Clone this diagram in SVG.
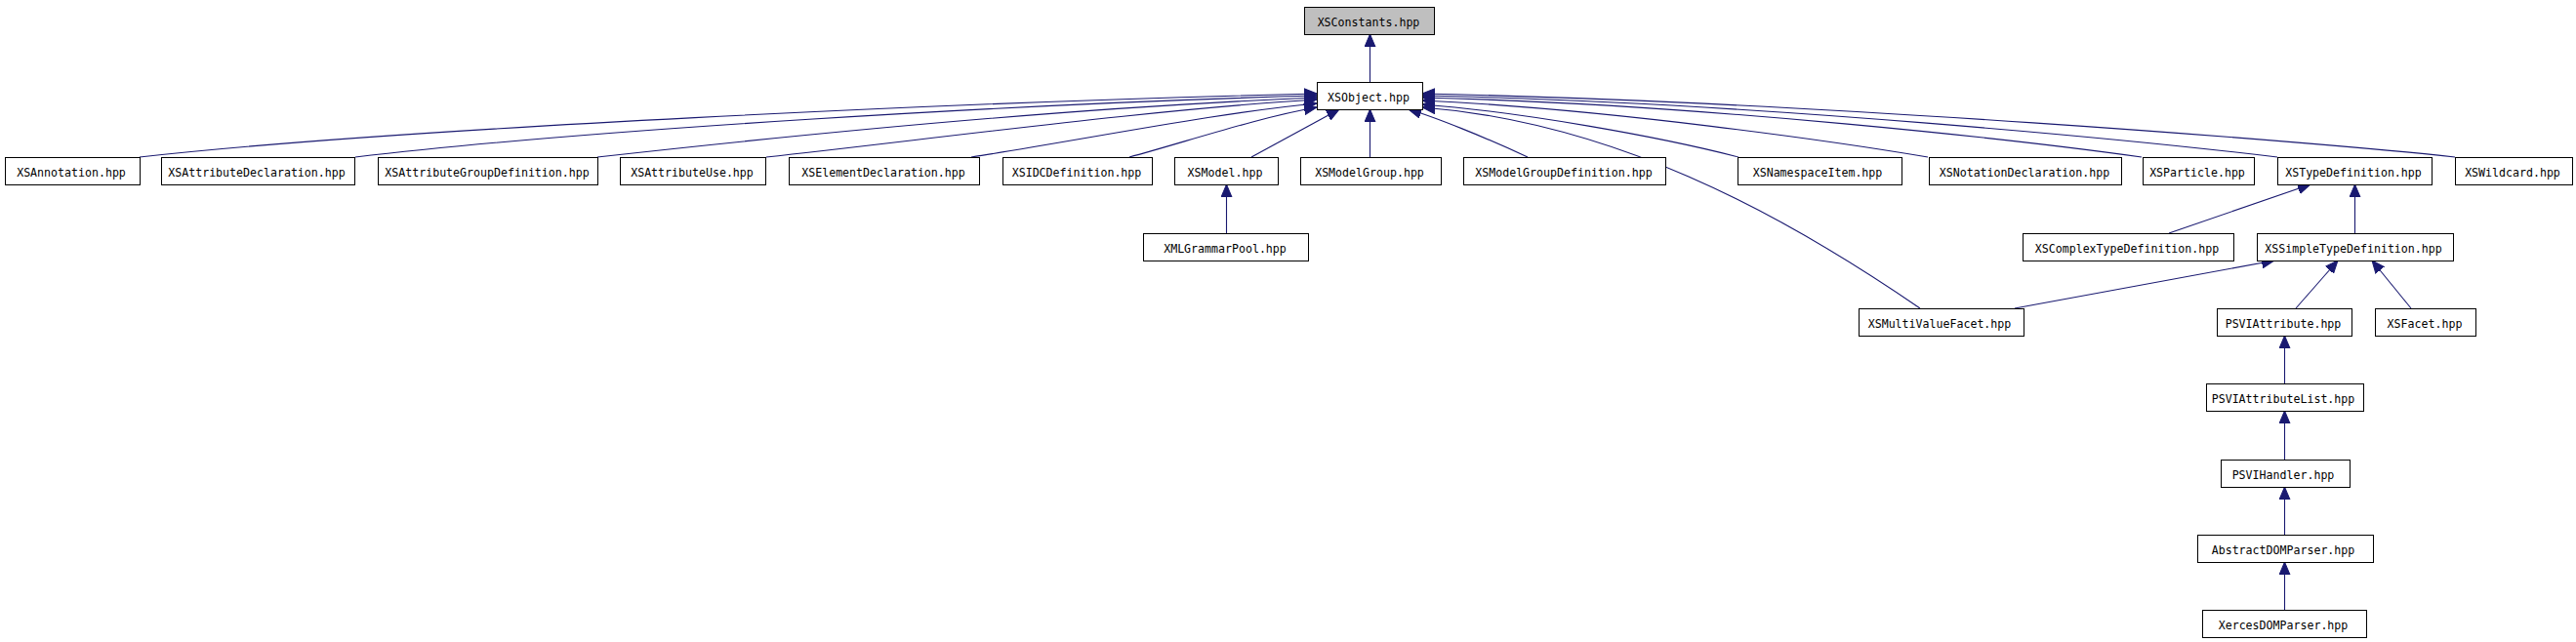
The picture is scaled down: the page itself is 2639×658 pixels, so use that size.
<svg xmlns="http://www.w3.org/2000/svg" width="2639" height="658" viewBox="0 0 2639 658">
<style>
.n rect{fill:#fff;stroke:#000;stroke-width:1}
.n.g rect{fill:#bfbfbf}
.n text{font-family:"DejaVu Sans Mono","Liberation Mono",monospace;font-size:11.6px;font-weight:normal;text-anchor:middle;fill:#000}
#edges path{fill:none;stroke:#191970;stroke-width:1.1;marker-end:url(#arr)}
</style>
<defs>
<marker id="arr" markerUnits="userSpaceOnUse" markerWidth="14" markerHeight="12" refX="13" refY="6" orient="auto">
<path d="M0,0.5 L13,6 L0,11.5 z" fill="#191970" stroke="#191970" stroke-width="1"/>
</marker>
</defs>
<rect width="2639" height="658" fill="#fff"/>
<g id="edges">
<path d="M1403.5,84 L1403.5,35"/>
<path d="M143,161 C400,132 1000,104 1349,96"/>
<path d="M364,161 C600,133 1050,106 1349,98"/>
<path d="M612,161 C800,140 1100,110 1349,100"/>
<path d="M785,161 C950,143 1180,112 1349,102"/>
<path d="M995,161 C1100,145 1250,115 1349,106"/>
<path d="M1157,161 C1210,147 1290,120 1349,110"/>
<path d="M1282,161 L1372,112"/>
<path d="M1403.5,161 L1403.5,112"/>
<path d="M1565,161 C1520,140 1470,120 1443,112"/>
<path d="M1781,161 C1700,140 1560,115 1457,107"/>
<path d="M1975,161 C1880,145 1650,112 1457,103"/>
<path d="M2194,161 C2080,145 1750,107 1457,100"/>
<path d="M2333,161 C2200,145 1800,105 1457,98"/>
<path d="M2515,161 C2380,146 1850,104 1457,96"/>
<path d="M1967,316 C1820,215 1650,125 1457,110"/>
<path d="M1256.5,239 L1256.5,189"/>
<path d="M2222,239 L2367,189"/>
<path d="M2412.5,239 L2412.5,189"/>
<path d="M2064,316 L2330,267"/>
<path d="M2352,316 L2395,267"/>
<path d="M2470,316 L2430,267"/>
<path d="M2340.5,393 L2340.5,344"/>
<path d="M2340.5,471 L2340.5,421"/>
<path d="M2340.5,548 L2340.5,499"/>
<path d="M2340.5,625 L2340.5,576"/>
</g>
<g id="XSConstants" class="n g"><rect x="1336.5" y="7.5" width="133" height="28"/><text x="1402" y="26.5">XSConstants.hpp</text></g>
<g id="XSObject" class="n"><rect x="1349.5" y="84.5" width="108" height="28"/><text x="1402" y="103.5">XSObject.hpp</text></g>
<g id="XSAnnotation" class="n"><rect x="5.5" y="161.5" width="138" height="28"/><text x="73" y="180.5">XSAnnotation.hpp</text></g>
<g id="XSAttributeDeclaration" class="n"><rect x="165.5" y="161.5" width="198" height="28"/><text x="263" y="180.5">XSAttributeDeclaration.hpp</text></g>
<g id="XSAttributeGroupDefinition" class="n"><rect x="387.5" y="161.5" width="225" height="28"/><text x="499" y="180.5">XSAttributeGroupDefinition.hpp</text></g>
<g id="XSAttributeUse" class="n"><rect x="635.5" y="161.5" width="149" height="28"/><text x="709" y="180.5">XSAttributeUse.hpp</text></g>
<g id="XSElementDeclaration" class="n"><rect x="808.5" y="161.5" width="195" height="28"/><text x="905" y="180.5">XSElementDeclaration.hpp</text></g>
<g id="XSIDCDefinition" class="n"><rect x="1027.5" y="161.5" width="153" height="28"/><text x="1103" y="180.5">XSIDCDefinition.hpp</text></g>
<g id="XSModel" class="n"><rect x="1203.5" y="161.5" width="106" height="28"/><text x="1255" y="180.5">XSModel.hpp</text></g>
<g id="XSModelGroup" class="n"><rect x="1332.5" y="161.5" width="144" height="28"/><text x="1403" y="180.5">XSModelGroup.hpp</text></g>
<g id="XSModelGroupDefinition" class="n"><rect x="1499.5" y="161.5" width="207" height="28"/><text x="1602" y="180.5">XSModelGroupDefinition.hpp</text></g>
<g id="XSNamespaceItem" class="n"><rect x="1780.5" y="161.5" width="168" height="28"/><text x="1862" y="180.5">XSNamespaceItem.hpp</text></g>
<g id="XSNotationDeclaration" class="n"><rect x="1976.5" y="161.5" width="197" height="28"/><text x="2074" y="180.5">XSNotationDeclaration.hpp</text></g>
<g id="XSParticle" class="n"><rect x="2195.5" y="161.5" width="114" height="28"/><text x="2251" y="180.5">XSParticle.hpp</text></g>
<g id="XSTypeDefinition" class="n"><rect x="2333.5" y="161.5" width="158" height="28"/><text x="2411" y="180.5">XSTypeDefinition.hpp</text></g>
<g id="XSWildcard" class="n"><rect x="2515.5" y="161.5" width="120" height="28"/><text x="2574" y="180.5">XSWildcard.hpp</text></g>
<g id="XMLGrammarPool" class="n"><rect x="1171.5" y="239.5" width="169" height="28"/><text x="1255" y="258.5">XMLGrammarPool.hpp</text></g>
<g id="XSComplexTypeDefinition" class="n"><rect x="2072.5" y="239.5" width="216" height="28"/><text x="2179" y="258.5">XSComplexTypeDefinition.hpp</text></g>
<g id="XSSimpleTypeDefinition" class="n"><rect x="2312.5" y="239.5" width="201" height="28"/><text x="2411" y="258.5">XSSimpleTypeDefinition.hpp</text></g>
<g id="XSMultiValueFacet" class="n"><rect x="1904.5" y="316.5" width="169" height="28"/><text x="1987" y="335.5">XSMultiValueFacet.hpp</text></g>
<g id="PSVIAttribute" class="n"><rect x="2271.5" y="316.5" width="138" height="28"/><text x="2339" y="335.5">PSVIAttribute.hpp</text></g>
<g id="XSFacet" class="n"><rect x="2433.5" y="316.5" width="103" height="28"/><text x="2484" y="335.5">XSFacet.hpp</text></g>
<g id="PSVIAttributeList" class="n"><rect x="2260.5" y="393.5" width="161" height="28"/><text x="2339" y="412.5">PSVIAttributeList.hpp</text></g>
<g id="PSVIHandler" class="n"><rect x="2275.5" y="471.5" width="132" height="28"/><text x="2339" y="490.5">PSVIHandler.hpp</text></g>
<g id="AbstractDOMParser" class="n"><rect x="2251.5" y="548.5" width="180" height="28"/><text x="2339" y="567.5">AbstractDOMParser.hpp</text></g>
<g id="XercesDOMParser" class="n"><rect x="2256.5" y="625.5" width="168" height="28"/><text x="2339" y="644.5">XercesDOMParser.hpp</text></g>
</svg>
